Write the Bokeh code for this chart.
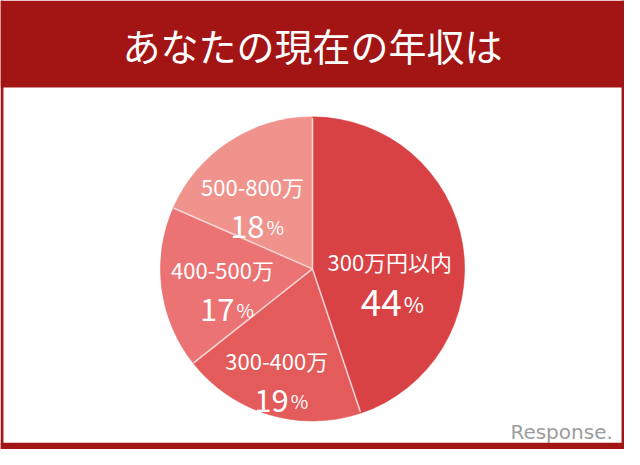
import numpy as np
from bokeh.plotting import figure
from bokeh.models import ColumnDataSource, Range1d, BoxAnnotation
from bokeh.core.properties import value
from bokeh.embed import file_html
from bokeh.resources import INLINE

# ---- data ----
title = "あなたの現在の年収は"
categories = ["300万円以内", "300-400万", "400-500万", "500-800万"]
percents = [44, 19, 17, 18]
watermark = "Response."

# ---- style ----
slice_colors = ["#D94244", "#E35B5B", "#EB7373", "#F0938D"]
band_color = "#A31414"
sep_color = "#F9D6D6"
label_frac = [0.51, 0.74, 0.60, 0.60]       # radial position of labels
label_adj_deg = [14, 2, -2, -8]              # clockwise angular nudge
num_sizes = ["37px", "31px", "31px", "31px"]
pct_sizes = ["22px", "19px", "19px", "19px"]
num_base = [13, 11, 11, 11]
JP = value("Noto Sans CJK JP")

W, H = 640, 465
cx, cy, r = 320, H - 278, 156

p = figure(width=624, height=449, x_range=Range1d(0, W), y_range=Range1d(0, H),
           output_backend="svg", toolbar_location=None, min_border=0,
           x_axis_type=None, y_axis_type=None)
p.grid.visible = False
p.outline_line_color = None
p.background_fill_color = "white"
p.border_fill_color = "white"

# title band and frame
for kw in (dict(bottom=H - 90), dict(right=3), dict(left=W - 3), dict(top=7)):
    p.add_layout(BoxAnnotation(fill_color=band_color, fill_alpha=1,
                               line_alpha=0, level="underlay", **kw))

# pie
frac = np.array(percents, dtype=float) / sum(percents)
cum = np.concatenate([[0.0], np.cumsum(frac)]) * 2 * np.pi
start = np.pi / 2 - cum[1:]
end = np.pi / 2 - cum[:-1]
mid = np.pi / 2 - (cum[:-1] + cum[1:]) / 2 - np.radians(label_adj_deg)
lx = cx + np.array(label_frac) * r * np.cos(mid)
ly = cy + np.array(label_frac) * r * np.sin(mid)

src = ColumnDataSource(dict(
    start=start, end=end, color=slice_colors, cat=categories,
    num=[str(v) for v in percents], pct=["%"] * len(percents),
    lx=lx, ly=ly, num_size=num_sizes, pct_size=pct_sizes,
    num_off=[14.5 + b for b in num_base],
))

p.wedge(x=cx, y=cy, radius=r, start_angle="start", end_angle="end",
        fill_color="color", line_color="color", line_width=0.5, source=src)

# separators between slices (radial lines only)
bnd = end
p.segment(x0=[cx] * len(bnd), y0=[cy] * len(bnd),
          x1=cx + r * np.cos(bnd), y1=cy + r * np.sin(bnd),
          line_color=sep_color, line_width=1.5)

p.text(x="lx", y="ly", text="cat", source=src, y_offset=-14.5,
       text_align="center", text_baseline="middle", text_color="white",
       text_font=JP, text_font_size="22px")
p.text(x="lx", y="ly", text="num", source=src, x_offset=12, y_offset="num_off",
       text_align="right", text_baseline="alphabetic", text_color="white",
       text_font=JP, text_font_size="num_size")
p.text(x="lx", y="ly", text="pct", source=src, x_offset=14, y_offset="num_off",
       text_align="left", text_baseline="alphabetic", text_color="white",
       text_font=JP, text_font_size="pct_size")

# title
p.text(x=[W / 2], y=[H - 46], text=[title], text_align="center", text_baseline="middle",
       text_color="white", text_font=JP, text_font_size="38px")

# watermark
p.text(x=[628], y=[H - 447], text=[watermark], text_align="right",
       text_baseline="alphabetic", text_color="#9C9C9C",
       text_font=value("DejaVu Sans"), text_font_size="20px")

open("out.html", "w").write(file_html(p, INLINE))
